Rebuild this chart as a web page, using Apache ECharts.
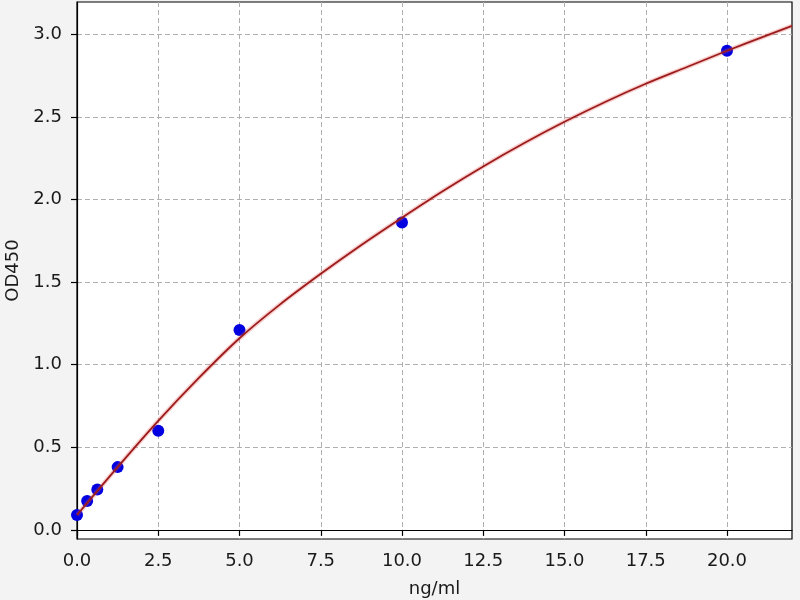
<!DOCTYPE html>
<html>
<head>
<meta charset="utf-8">
<script src="https://cdn.jsdelivr.net/npm/echarts@6/dist/echarts.min.js"></script>
<style>
html,body{margin:0;padding:0;background:#f3f3f3;}
#chart{width:800px;height:600px;}
</style>
</head>
<body>
<div id="chart"></div>
<script>
// Standard points (ng/ml, OD450)
var stdConc = [0, 0.3125, 0.625, 1.25, 2.5, 5, 10, 20];
var stdOD   = [0.09, 0.175, 0.245, 0.38, 0.60, 1.21, 1.86, 2.90];
// Fitted curve
var curveX = [0, 1.25, 2.5, 3.75, 5, 6.25, 7.5, 8.75, 10, 11.25, 12.5, 13.75, 15, 16.25, 17.5, 18.75, 20, 21.25, 22];
var curveY = [0.09, 0.38, 0.66, 0.92, 1.16, 1.365, 1.55, 1.725, 1.89, 2.05, 2.20, 2.34, 2.47, 2.59, 2.70, 2.80, 2.90, 2.995, 3.05];
// Tick labels
var xTicks = [0, 2.5, 5, 7.5, 10, 12.5, 15, 17.5, 20];
var yTicks = [0, 0.5, 1.0, 1.5, 2.0, 2.5, 3.0];

var pts = stdConc.map(function(x, i){ return [x, stdOD[i]]; });
var curve = curveX.map(function(x, i){ return [x, curveY[i]]; });

var font = 'DejaVu Sans';
var chart = echarts.init(document.getElementById('chart'));
chart.setOption({
  backgroundColor: '#f3f3f3',
  animation: false,
  grid: {left: 77, right: 8, top: 2, bottom: 61, show: true, backgroundColor: '#ffffff',
    borderColor: '#000', borderWidth: 1.2, containLabel: false, outerBoundsMode: 'none'},
  xAxis: {
    type: 'value', min: 0, max: 22,
    name: 'ng/ml', nameLocation: 'middle', nameGap: 41,
    nameTextStyle: {fontFamily: font, fontSize: 18, color: '#1a1a1a'},
    axisLine: {lineStyle: {color: '#000', width: 1.2}},
    axisTick: {show: true, length: 6, customValues: xTicks, lineStyle: {color: '#000', width: 1.2}},
    axisLabel: {customValues: xTicks, margin: 13, fontFamily: font, fontSize: 18, color: '#1a1a1a',
      formatter: function(v){ return v.toFixed(1); }},
    splitLine: {show: true, lineStyle: {color: '#b0b0b0', type: [5, 3], width: 1}}
  },
  yAxis: {
    type: 'value', min: -0.055, max: 3.195,
    name: 'OD450', nameLocation: 'middle', nameGap: 55,
    nameTextStyle: {fontFamily: font, fontSize: 18, color: '#1a1a1a'},
    axisLine: {lineStyle: {color: '#000', width: 1.2}},
    axisTick: {show: true, length: 6, customValues: yTicks, lineStyle: {color: '#000', width: 1.2}},
    axisLabel: {customValues: yTicks, margin: 15, fontFamily: font, fontSize: 18, color: '#1a1a1a',
      formatter: function(v){ return v.toFixed(1); }},
    splitLine: {show: true, lineStyle: {color: '#b0b0b0', type: [5, 3], width: 1}}
  },
  series: [
    {type: 'scatter', data: pts, symbolSize: 12, itemStyle: {color: '#0000e0', opacity: 1}, z: 2},
    {type: 'line', data: curve, smooth: 0.3, showSymbol: false, clip: true,
      lineStyle: {color: 'rgba(230,80,80,0.28)', width: 4.5}, z: 3},
    {type: 'line', data: curve, smooth: 0.3, showSymbol: false, clip: true,
      lineStyle: {color: '#9c1c1c', width: 1.8}, z: 4}
  ]
});
</script>
</body>
</html>
